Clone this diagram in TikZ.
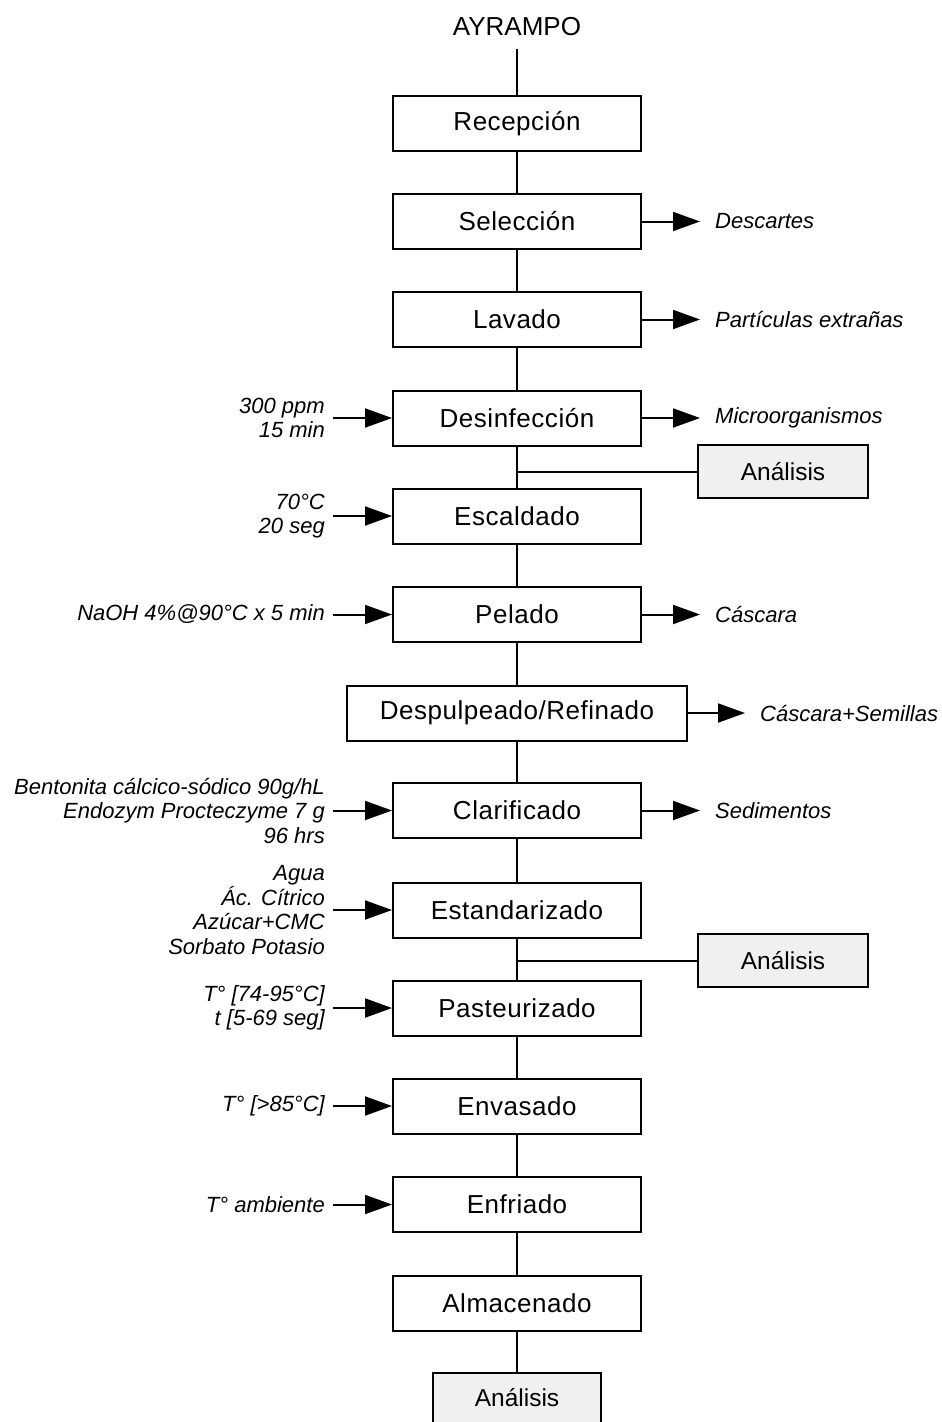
\documentclass[tikz,border=0pt]{standalone}
\usepackage{fontspec}
\setmainfont{Liberation Sans}
\newfontfamily\stagefont{Liberation Sans}[LetterSpace=2]
\usetikzlibrary{arrows.meta}
\begin{document}
\begin{tikzpicture}[x=1pt,y=-1pt,
  stage/.style={draw, line width=2pt, minimum width=248pt, minimum height=55pt,
    inner sep=0pt, font=\stagefont\fontsize{26}{30}\selectfont},
  check/.style={draw, line width=2pt, fill=gray!12, minimum width=170pt,
    minimum height=53pt, inner sep=0pt, font=\fontsize{24.5}{28}\selectfont},
  lab/.style={anchor=east, align=right, inner xsep=8pt, inner ysep=0pt,
    font=\itshape\fontsize{22}{24.5}\selectfont},
  outp/.style={anchor=west, inner xsep=15pt, inner ysep=0pt,
    font=\itshape\fontsize{22}{24.5}\selectfont},
  flow/.style={line width=2pt},
  feed/.style={line width=2pt, -{Triangle[length=27pt,width=19pt]}}]
\useasboundingbox (0,0) rectangle (942,1422);

% raw material
\node[font=\fontsize{26}{30}\selectfont] (ayr) at (517,27) {AYRAMPO};
\coordinate (start) at (517,49);

% process stages
\node[stage] (recep)  at (517,123.5) {Recepción};
\node[stage] (selec)  at (517,221.5) {Selección};
\node[stage] (lavado) at (517,319.5) {Lavado};
\node[stage] (desinf) at (517,418)   {Desinfección};
\node[stage] (escald) at (517,516)   {Escaldado};
\node[stage] (pelado) at (517,614.5) {Pelado};
\node[stage, minimum width=340pt] (despul) at (517,713) {Despulpeado/Refinado};
\node[stage] (clarif) at (517,810.5) {Clarificado};
\node[stage] (estand) at (517,910)   {Estandarizado};
\node[stage] (paste)  at (517,1008)  {Pasteurizado};
\node[stage] (envas)  at (517,1106)  {Envasado};
\node[stage] (enfri)  at (517,1204.5){Enfriado};
\node[stage] (almac)  at (517,1303)  {Almacenado};

% quality checks
\node[check] (an1) at (783,471.5) {Análisis};
\node[check] (an2) at (783,960.5) {Análisis};
\node[check, minimum width=168pt, minimum height=50pt] (an3) at (517,1398) {Análisis};

% main flow line
\draw[flow] (start) -- (recep);
\draw[flow] (recep) -- (selec);
\draw[flow] (selec) -- (lavado);
\draw[flow] (lavado) -- (desinf);
\draw[flow] (desinf) -- (escald);
\draw[flow] (escald) -- (pelado);
\draw[flow] (pelado) -- (despul);
\draw[flow] (despul) -- (clarif);
\draw[flow] (clarif) -- (estand);
\draw[flow] (estand) -- (paste);
\draw[flow] (paste) -- (envas);
\draw[flow] (envas) -- (enfri);
\draw[flow] (enfri) -- (almac);
\draw[flow] (almac) -- (an3);

% branches to the checks
\draw[flow] (an1.west) -- (desinf.south |- an1.west);
\draw[flow] (an2.west) -- (estand.south |- an2.west);

% outputs
\node[outp] (o1) at (700,221.5) {Descartes};
\node[outp] (o2) at (700,319.5) {Partículas extrañas};
\node[outp] (o3) at (700,418)   {Microorganismos};
\node[outp] (o4) at (700,614.5) {Cáscara};
\node[outp] (o5) at (745,713)   {Cáscara+Semillas};
\node[outp] (o6) at (700,810.5) {Sedimentos};
\draw[feed] (selec) -- (o1);
\draw[feed] (lavado) -- (o2);
\draw[feed] (desinf) -- (o3);
\draw[feed] (pelado) -- (o4);
\draw[feed] (despul) -- (o5);
\draw[feed] (clarif) -- (o6);

% inputs
\node[lab] (i1) at (333,418)    {300 ppm\\15 min};
\node[lab] (i2) at (333,516)    {70°C\\20 seg};
\node[lab] (i3) at (333,614.5)  {NaOH 4\%@90°C x 5 min};
\node[lab] (i4) at (333,810.5)  {Bentonita cálcico-sódico 90g/hL\\Endozym Procteczyme 7 g\\96 hrs};
\node[lab] (i5) at (333,910)    {Agua\\Ác. Cítrico\\Azúcar+CMC\\Sorbato Potasio};
\node[lab] (i6) at (333,1008)   {T° [74-95°C]\\t [5-69 seg]};
\node[lab] (i7) at (333,1106)   {T° [>85°C]};
\node[lab] (i8) at (333,1204.5) {T° ambiente};
\draw[feed] (i1) -- (desinf);
\draw[feed] (i2) -- (escald);
\draw[feed] (i3) -- (pelado);
\draw[feed] (i4) -- (clarif);
\draw[feed] (i5) -- (estand);
\draw[feed] (i6) -- (paste);
\draw[feed] (i7) -- (envas);
\draw[feed] (i8) -- (enfri);
\end{tikzpicture}
\end{document}
